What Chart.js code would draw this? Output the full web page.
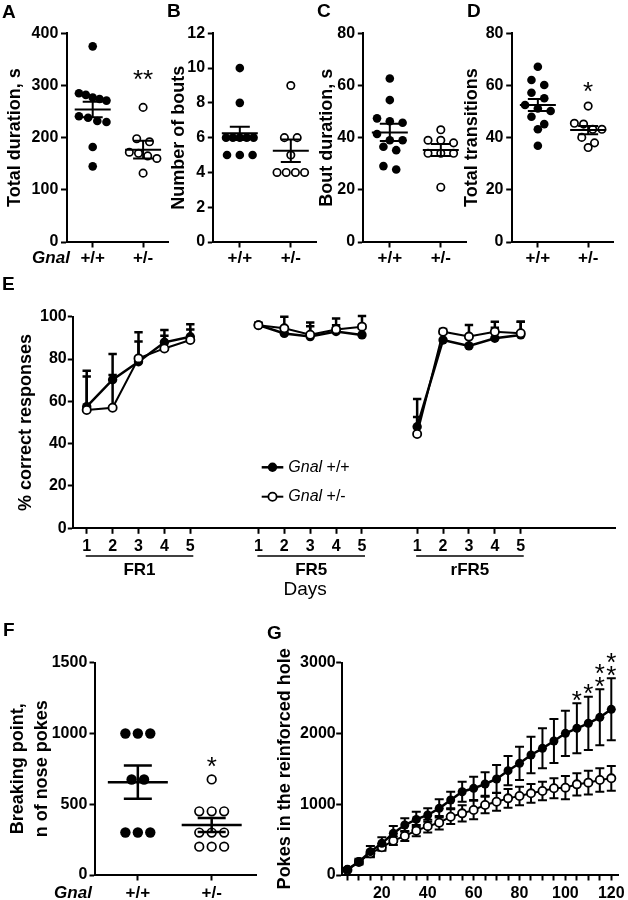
<!DOCTYPE html>
<html><head><meta charset="utf-8">
<script src="https://cdn.jsdelivr.net/npm/chart.js@4.4.1/dist/chart.umd.min.js"></script>
<style>
html,body{margin:0;padding:0;background:#fff;}
body{position:relative;width:628px;height:900px;overflow:hidden;}
canvas{position:absolute;}
</style></head><body>
<canvas id="cA"></canvas><canvas id="cB"></canvas><canvas id="cC"></canvas><canvas id="cD"></canvas>
<canvas id="cE"></canvas><canvas id="cF"></canvas><canvas id="cG"></canvas>
<script>
// ---------------- data ----------------
const geneName = 'Gnal';
const genotypes = ['+/+', '+/-'];

// A: total duration (s)
const durationWT = [375, 285, 282, 277, 274, 271, 241, 238, 232, 230, 182, 145];
const durationHet = [258, 198, 192, 172, 170, 165, 160, 132];
const durationMean = [254, 177];
const durationSem = [15, 17];

// B: number of bouts
const boutsWT = [10, 8, 6, 6, 6, 6, 6, 5, 5, 5];
const boutsHet = [9, 6, 6, 5, 4, 4, 4, 4];
const boutsMean = [6.25, 5.25];
const boutsSem = [0.38, 0.65];

// C: bout duration (s)
const boutDurWT = [62.7, 54.4, 47.4, 46.3, 45.7, 41.4, 39, 39, 36.5, 35.2, 29.1, 27.8];
const boutDurHet = [43, 39, 39, 38, 34, 34, 34, 21];
const boutDurMean = [42, 35.3];
const boutDurSem = [3.3, 2.3];

// D: total transitions
const transWT = [67.2, 62.1, 60.2, 57.2, 55.1, 52.5, 51.2, 50.2, 48, 45.2, 43.2, 36.9];
const transHet = [52.1, 45.5, 45.2, 43.2, 43.2, 40.1, 38, 36.2];
const transMean = [52.5, 42.9];
const transSem = [2.3, 1.6];

// E: % correct responses per phase and day
const phases = ['FR1', 'FR5', 'rFR5'];
const days = ['1', '2', '3', '4', '5'];
const correctWT     = [57.5, 70.2, 78.7, 87.9, 90.5,  96.1, 92.1, 90.6, 93.0, 91.4,  48.0, 89.0, 86.2, 89.8, 91.4];
const correctWTSem  = [17, 12.2, 13.9, 5.8, 5.9,      1, 2, 6.6, 3, 3,              13.1, 3, 4, 5, 6.2];
const correctHet    = [55.9, 57.0, 80.3, 85.0, 89.0,  96.0, 94.5, 91.5, 94.0, 95.3,  44.6, 92.9, 90.6, 92.9, 92.2];
const correctHetSem = [15.8, 15.4, 8, 6, 5,           1, 5.5, 4, 5.2, 5,            8, 1.3, 5.5, 4.7, 5.4];

// F: breaking point
const breakWT = [1000, 1000, 1000, 675, 675, 300, 300, 300];
const breakHet = [675, 450, 450, 450, 300, 300, 300, 200, 200, 200];
const breakMean = [656, 353];
const breakSem = [117, 50];

// G: cumulative pokes in the reinforced hole
const minutes = [5, 10, 15, 20, 25, 30, 35, 40, 45, 50, 55, 60, 65, 70, 75, 80, 85, 90, 95, 100, 105, 110, 115, 120];
const pokesWT     = [80, 188, 330, 447, 589, 706, 786, 848, 942, 1060, 1177, 1225, 1286, 1357, 1474, 1578, 1696, 1790, 1893, 2002, 2073, 2144, 2228, 2341];
const pokesWTSem  = [20, 40, 80, 85, 103, 95, 108, 94, 128, 117, 141, 164, 165, 197, 207, 235, 258, 283, 311, 320, 353, 376, 396, 438];
const pokesHet    = [70, 185, 306, 391, 485, 551, 626, 690, 739, 824, 871, 918, 989, 1036, 1083, 1116, 1154, 1187, 1225, 1234, 1281, 1305, 1342, 1366];
const pokesHetSem = [10, 25, 40, 50, 60, 70, 80, 90, 95, 105, 115, 130, 117, 127, 132, 132, 132, 131, 141, 165, 156, 169, 165, 174];
const pokesStarMinutes = [105, 110, 115, 120];
const pokesStars = ['*', '*', '**', '**'];

// ---------------- style ----------------
const FONT = "'Liberation Sans', Arial, Helvetica, sans-serif";
Chart.defaults.font.family = FONT;
Chart.defaults.color = '#000';
const tickFont = {family: FONT, size: 16, weight: 'bold'};
const catFont = {family: FONT, size: 17, weight: 'bold'};
const titleFont = {family: FONT, size: 18, weight: 'bold', lineHeight: 1.2};
const grid = {display: true, drawOnChartArea: false, drawTicks: true, tickLength: 5.5, tickWidth: 2, tickColor: '#000'};
const border = {display: true, color: '#000', width: 2};
const plain = v => String(v);

function mk(id, L, T, W, H) {
  const c = document.getElementById(id);
  c.width = W; c.height = H;
  c.style.left = L + 'px'; c.style.top = T + 'px';
  return c;
}

// ---------------- plugins ----------------
const panelLetter = {
  id: 'panelLetter',
  afterDraw(chart, args, o) {
    if (!o || !o.text) return;
    const ctx = chart.ctx;
    ctx.save();
    ctx.font = 'bold 19px ' + FONT; ctx.fillStyle = '#000';
    ctx.textAlign = 'left'; ctx.textBaseline = 'alphabetic';
    ctx.fillText(o.text, o.x, o.y);
    ctx.restore();
  }
};

function drawStar(ctx, text, cx, cy, size) {
  ctx.font = size + 'px ' + FONT;
  ctx.textAlign = 'center'; ctx.textBaseline = 'alphabetic';
  ctx.fillText(text, cx, cy + 0.58 * size);
}

const meanSem = {
  id: 'meanSem',
  afterDatasetsDraw(chart, args, o) {
    if (!o || !o.mean) return;
    const ctx = chart.ctx, x = chart.scales.x, y = chart.scales.y;
    ctx.save();
    ctx.strokeStyle = '#000'; ctx.fillStyle = '#000'; ctx.lineWidth = o.lw;
    for (let i = 0; i < o.mean.length; i++) {
      const m = o.mean[i], s = o.sem[i];
      const cx = x.getPixelForValue(i + 1);
      const ym = y.getPixelForValue(m), yt = y.getPixelForValue(m + s), yb = y.getPixelForValue(m - s);
      ctx.beginPath();
      ctx.moveTo(cx - o.meanHalf, ym); ctx.lineTo(cx + o.meanHalf, ym);
      ctx.moveTo(cx, yt); ctx.lineTo(cx, yb);
      ctx.moveTo(cx - o.capHalf, yt); ctx.lineTo(cx + o.capHalf, yt);
      ctx.moveTo(cx - o.capHalf, yb); ctx.lineTo(cx + o.capHalf, yb);
      ctx.stroke();
    }
    if (o.starText) {
      const vals = chart.data.datasets[1].data.map(p => p.y);
      const cx = x.getPixelForValue(2);
      const cy = y.getPixelForValue(Math.max(...vals)) - o.starGap;
      drawStar(ctx, o.starText, cx, cy, o.starSize);
    }
    if (o.geneX !== undefined) {
      ctx.font = 'italic bold 17px ' + FONT;
      ctx.textAlign = 'center'; ctx.textBaseline = 'middle';
      ctx.fillText(geneName, o.geneX, o.geneY);
    }
    ctx.restore();
  }
};

function drawErrors(chart, semKey, both, capHalf, lw) {
  const ctx = chart.ctx, x = chart.scales.x, y = chart.scales.y;
  ctx.save(); ctx.strokeStyle = '#000'; ctx.lineWidth = lw;
  chart.data.datasets.forEach(ds => {
    const sem = ds[semKey]; let k = 0;
    ds.data.forEach(p => {
      if (p.y === null) return;
      const s = sem[k++];
      const px = x.getPixelForValue(p.x);
      const yt = y.getPixelForValue(p.y + s);
      const yb = both ? y.getPixelForValue(p.y - s) : y.getPixelForValue(p.y);
      ctx.beginPath();
      ctx.moveTo(px, yb); ctx.lineTo(px, yt);
      ctx.moveTo(px - capHalf, yt); ctx.lineTo(px + capHalf, yt);
      if (both) { ctx.moveTo(px - capHalf, yb); ctx.lineTo(px + capHalf, yb); }
      ctx.stroke();
    });
  });
  ctx.restore();
}

const corrDecor = {
  id: 'corrDecor',
  beforeDatasetsDraw(chart, args, o) {
    if (!o || !o.on) return;
    drawErrors(chart, 'sem', false, 4.2, 2.5);
  },
  afterDraw(chart, args, o) {
    if (!o || !o.on) return;
    const ctx = chart.ctx, x = chart.scales.x;
    ctx.save(); ctx.strokeStyle = '#000'; ctx.fillStyle = '#000';
    ctx.lineWidth = 1.5;
    phases.forEach((p, pi) => {
      const x1 = x.getPixelForValue(o.blockOffset[pi] + 1) - 1;
      const x2 = x.getPixelForValue(o.blockOffset[pi] + days.length) + 3;
      ctx.beginPath(); ctx.moveTo(x1, o.bracketY); ctx.lineTo(x2, o.bracketY); ctx.stroke();
      ctx.font = 'bold 17px ' + FONT; ctx.textAlign = 'center'; ctx.textBaseline = 'middle';
      ctx.fillText(p, (x1 + x2) / 2, o.phaseY);
      if (pi === 1) {
        ctx.font = '19px ' + FONT;
        ctx.fillText('Days', (x1 + x2) / 2 - 6, o.daysY);
      }
    });
    const items = chart.data.datasets.slice().sort((a, b) => a.legendIndex - b.legendIndex);
    items.forEach((ds, k) => {
      const yy = o.legY + k * o.legDy;
      ctx.lineWidth = ds.borderWidth;
      ctx.beginPath(); ctx.moveTo(o.legX1, yy); ctx.lineTo(o.legX2, yy); ctx.stroke();
      const cx = (o.legX1 + o.legX2) / 2;
      ctx.beginPath(); ctx.arc(cx, yy, ds.pointRadius, 0, Math.PI * 2);
      ctx.fillStyle = ds.pointBackgroundColor; ctx.fill();
      if (ds.pointBorderWidth > 0) { ctx.lineWidth = ds.pointBorderWidth; ctx.stroke(); }
      ctx.fillStyle = '#000'; ctx.textAlign = 'left'; ctx.textBaseline = 'middle';
      const parts = ds.label.split(' ');
      ctx.font = 'italic 16px ' + FONT;
      ctx.fillText(parts[0], o.legTextX, yy);
      const w = ctx.measureText(parts[0]).width;
      ctx.font = '16px ' + FONT;
      ctx.fillText(' ' + parts.slice(1).join(' '), o.legTextX + w, yy);
    });
    ctx.restore();
  }
};

const pokesDecor = {
  id: 'pokesDecor',
  beforeDatasetsDraw(chart, args, o) {
    if (!o || !o.on) return;
    drawErrors(chart, 'sem', true, 4.5, 2);
  },
  afterDatasetsDraw(chart, args, o) {
    if (!o || !o.on) return;
    const ctx = chart.ctx, x = chart.scales.x, y = chart.scales.y;
    ctx.save(); ctx.fillStyle = '#000';
    pokesStarMinutes.forEach((m, i) => {
      const idx = minutes.indexOf(m);
      const cx = x.getPixelForValue(m);
      const capY = y.getPixelForValue(pokesWT[idx] + pokesWTSem[idx]);
      for (let k = 0; k < pokesStars[i].length; k++) {
        drawStar(ctx, '*', cx, capY - 9.5 - k * 12.5, 26);
      }
    });
    ctx.restore();
  }
};

Chart.register(panelLetter, meanSem, corrDecor, pokesDecor);

// ---------------- dot-plot panels ----------------
function swarm(values, pxX, pxY, gapPx, rowMaxPx, tolPx) {
  const sorted = values.slice().sort((a, b) => b - a);
  const rows = [];
  sorted.forEach(v => {
    const row = rows[rows.length - 1];
    if (row && (row[0] - v) * pxY < tolPx) row.push(v); else rows.push([v]);
  });
  const out = [];
  rows.forEach(row => {
    const n = row.length;
    const step = n > 1 ? Math.min(gapPx, rowMaxPx / (n - 1)) : 0;
    row.forEach((v, i) => out.push({dx: (i - (n - 1) / 2) * step / pxX, y: v}));
  });
  return out;
}

function dotPanel(c) {
  const cv = mk(c.id, c.L, c.T, c.W, c.H);
  const pxX = (c.plot.r - c.plot.l) / (c.xMax - c.xMin);
  const pxY = (c.plot.b - c.plot.t) / c.yMax;
  const sw = (vals, center) => swarm(vals, pxX, pxY, c.gap, c.rowMax, 8.5).map(p => ({x: center + p.dx, y: p.y}));
  const lh = c.titleLH || 1.2;
  const tf = Object.assign({}, titleFont, {lineHeight: lh});
  new Chart(cv, {
    type: 'scatter',
    data: {datasets: [
      {label: genotypes[0], data: sw(c.wt, 1), pointRadius: c.r, pointBackgroundColor: '#000', pointBorderColor: '#000', pointBorderWidth: 0, clip: false},
      {label: genotypes[1], data: sw(c.het, 2), pointRadius: c.openR, pointBackgroundColor: '#fff', pointBorderColor: '#000', pointBorderWidth: 1.7, clip: false}
    ]},
    options: {
      responsive: false, animation: false, events: [], devicePixelRatio: 1,
      layout: {padding: {top: c.plot.t - c.T, right: c.L + c.W - c.plot.r, left: 0, bottom: 0}},
      plugins: {
        legend: {display: false}, tooltip: {enabled: false},
        panelLetter: {text: c.letter[0], x: c.letter[1] - c.L, y: c.letter[2] - c.T},
        meanSem: {
          mean: c.mean, sem: c.sem, lw: c.lw, meanHalf: c.meanHalf, capHalf: c.capHalf,
          starText: c.star ? c.star[0] : '', starGap: c.star ? c.star[1] : 0, starSize: 26,
          geneX: c.gene ? c.gene[0] - c.L : undefined, geneY: c.gene ? c.gene[1] - c.T : undefined
        }
      },
      scales: {
        x: {
          type: 'linear', min: c.xMin, max: c.xMax,
          afterBuildTicks: s => { s.ticks = genotypes.map((g, i) => ({value: i + 1})); },
          ticks: {autoSkip: false, maxRotation: 0, font: catFont, padding: c.xPad, callback: v => genotypes[Math.round(v) - 1]},
          grid: grid, border: border,
          afterFit: s => { s.height = c.T + c.H - c.plot.b; }
        },
        y: {
          min: 0, max: c.yMax,
          ticks: {stepSize: c.yStep, font: tickFont, padding: c.yPad, callback: plain},
          title: {display: true, text: c.title, font: tf, padding: {top: c.titleX - c.L - 18 * lh / 2, bottom: 0}},
          grid: grid, border: border,
          afterFit: s => { s.width = c.plot.l - c.L; }
        }
      }
    }
  });
}

const smallDots = {r: 4.3, openR: 3.7, gap: 13, rowMax: 28, lw: 2, meanHalf: 18, capHalf: 10, xMin: 0.48, xMax: 2.5, xPad: 0.6, yPad: 2.7, T: 0, H: 275};

dotPanel(Object.assign({}, smallDots, {id: 'cA', L: 0, W: 174, plot: {l: 66.5, t: 33.3, r: 170, b: 242},
  yMax: 400, yStep: 100, title: 'Total duration, s', titleX: 15,
  wt: durationWT, het: durationHet, mean: durationMean, sem: durationSem,
  letter: ['A', 2, 18], gene: [51, 258], star: ['**', 34]}));
dotPanel(Object.assign({}, smallDots, {id: 'cB', L: 164, W: 158, plot: {l: 213.3, t: 33.3, r: 318, b: 242},
  yMax: 12, yStep: 2, title: 'Number of bouts', titleX: 179,
  wt: boutsWT, het: boutsHet, mean: boutsMean, sem: boutsSem,
  letter: ['B', 167, 17]}));
dotPanel(Object.assign({}, smallDots, {id: 'cC', L: 312, W: 160, plot: {l: 363.3, t: 33.3, r: 468, b: 242},
  yMax: 80, yStep: 20, title: 'Bout duration, s', titleX: 327.5,
  wt: boutDurWT, het: boutDurHet, mean: boutDurMean, sem: boutDurSem,
  letter: ['C', 317, 17]}));
dotPanel(Object.assign({}, smallDots, {id: 'cD', L: 456, W: 163, plot: {l: 511.7, t: 33.3, r: 615, b: 242},
  yMax: 80, yStep: 20, title: 'Total transitions', titleX: 471.7,
  wt: transWT, het: transHet, mean: transMean, sem: transSem,
  letter: ['D', 467, 17], star: ['*', 21]}));

dotPanel({id: 'cF', L: 0, T: 610, W: 262, H: 290, plot: {l: 95, t: 662.7, r: 256.7, b: 875},
  xMin: 0.42, xMax: 2.6, yMax: 1500, yStep: 500,
  title: ['Breaking point,', 'n of nose pokes'], titleLH: 1.333, titleX: 18,
  r: 5.2, openR: 4.3, gap: 12.5, rowMax: 26, lw: 2.5, meanHalf: 30, capHalf: 14, xPad: 2.6, yPad: 2.2,
  wt: breakWT, het: breakHet, mean: breakMean, sem: breakSem,
  letter: ['F', 3, 636], gene: [73, 893], star: ['*', 20]});

// ---------------- panel E ----------------
const E = {L: 0, T: 270, W: 628, H: 340, plot: {l: 73.3, t: 316.7, r: 615, b: 528.3}, xMin: 0.482, xMax: 21.4, blockOffset: [0, 6.63, 12.76], titleX: 25.8};
function phaseSeries(vals) {
  const out = [];
  phases.forEach((p, pi) => {
    days.forEach((d, di) => out.push({x: E.blockOffset[pi] + di + 1, y: vals[pi * days.length + di]}));
    if (pi < phases.length - 1) out.push({x: E.blockOffset[pi] + days.length + 0.5, y: null});
  });
  return out;
}
new Chart(mk('cE', E.L, E.T, E.W, E.H), {
  type: 'line',
  data: {datasets: [
    {label: geneName + ' ' + genotypes[1], data: phaseSeries(correctHet), sem: correctHetSem, legendIndex: 1, order: 0,
     borderColor: '#000', borderWidth: 2, pointRadius: 4.1, pointBackgroundColor: '#fff', pointBorderColor: '#000', pointBorderWidth: 1.8, spanGaps: false},
    {label: geneName + ' ' + genotypes[0], data: phaseSeries(correctWT), sem: correctWTSem, legendIndex: 0, order: 1,
     borderColor: '#000', borderWidth: 2.5, pointRadius: 4.7, pointBackgroundColor: '#000', pointBorderColor: '#000', pointBorderWidth: 0, spanGaps: false}
  ]},
  options: {
    responsive: false, animation: false, events: [], devicePixelRatio: 1,
    layout: {padding: {top: E.plot.t - E.T, right: E.L + E.W - E.plot.r, left: 0, bottom: 0}},
    plugins: {
      legend: {display: false}, tooltip: {enabled: false},
      panelLetter: {text: 'E', x: 2 - E.L, y: 290 - E.T},
      corrDecor: {on: true, blockOffset: E.blockOffset, bracketY: 556 - E.T, phaseY: 570 - E.T, daysY: 590 - E.T,
        legX1: 261.7 - E.L, legX2: 283.3 - E.L, legTextX: 288.3 - E.L, legY: 467.3 - E.T, legDy: 29.4}
    },
    scales: {
      x: {
        type: 'linear', min: E.xMin, max: E.xMax,
        afterBuildTicks: s => {
          const t = [];
          phases.forEach((p, pi) => days.forEach((d, di) => t.push({value: E.blockOffset[pi] + di + 1})));
          s.ticks = t;
        },
        ticks: {autoSkip: false, maxRotation: 0, font: tickFont, padding: 3.3, callback: (v, i) => days[i % days.length]},
        grid: grid, border: border,
        afterFit: s => { s.height = E.T + E.H - E.plot.b; }
      },
      y: {
        min: 0, max: 100,
        ticks: {stepSize: 20, font: tickFont, padding: 1.1, callback: plain},
        title: {display: true, text: '% correct responses', font: titleFont, padding: {top: E.titleX - E.L - 10.8, bottom: 0}},
        grid: grid, border: border,
        afterFit: s => { s.width = E.plot.l - E.L; }
      }
    }
  }
});

// ---------------- panel G ----------------
const G = {L: 262, T: 610, W: 366, H: 290, plot: {l: 341.7, t: 662.7, r: 621.7, b: 875}, xMin: 2.5, xMax: 123, titleX: 285};
new Chart(mk('cG', G.L, G.T, G.W, G.H), {
  type: 'line',
  data: {datasets: [
    {label: genotypes[0], data: minutes.map((m, i) => ({x: m, y: pokesWT[i]})), sem: pokesWTSem, order: 0,
     borderColor: '#000', borderWidth: 2.5, pointRadius: 4.5, pointBackgroundColor: '#000', pointBorderColor: '#000', pointBorderWidth: 0},
    {label: genotypes[1], data: minutes.map((m, i) => ({x: m, y: pokesHet[i]})), sem: pokesHetSem, order: 1,
     borderColor: '#000', borderWidth: 2, pointRadius: 4.1, pointBackgroundColor: '#fff', pointBorderColor: '#000', pointBorderWidth: 1.8}
  ]},
  options: {
    responsive: false, animation: false, events: [], devicePixelRatio: 1,
    layout: {padding: {top: G.plot.t - G.T, right: G.L + G.W - G.plot.r, left: 0, bottom: 0}},
    plugins: {
      legend: {display: false}, tooltip: {enabled: false},
      panelLetter: {text: 'G', x: 267 - G.L, y: 639 - G.T},
      pokesDecor: {on: true}
    },
    scales: {
      x: {
        type: 'linear', min: G.xMin, max: G.xMax,
        afterBuildTicks: s => { s.ticks = minutes.map(m => ({value: m})); },
        ticks: {autoSkip: false, maxRotation: 0, font: tickFont, padding: 3.2, callback: v => (v % 20 === 0 ? String(v) : '')},
        grid: grid, border: border,
        afterFit: s => { s.height = G.T + G.H - G.plot.b; }
      },
      y: {
        min: 0, max: 3000,
        ticks: {stepSize: 1000, font: tickFont, padding: 0.5, callback: plain},
        title: {display: true, text: 'Pokes in the reinforced hole', font: titleFont, padding: {top: G.titleX - G.L - 10.8, bottom: 0}},
        grid: grid, border: border,
        afterFit: s => { s.width = G.plot.l - G.L; }
      }
    }
  }
});
</script>
</body></html>
